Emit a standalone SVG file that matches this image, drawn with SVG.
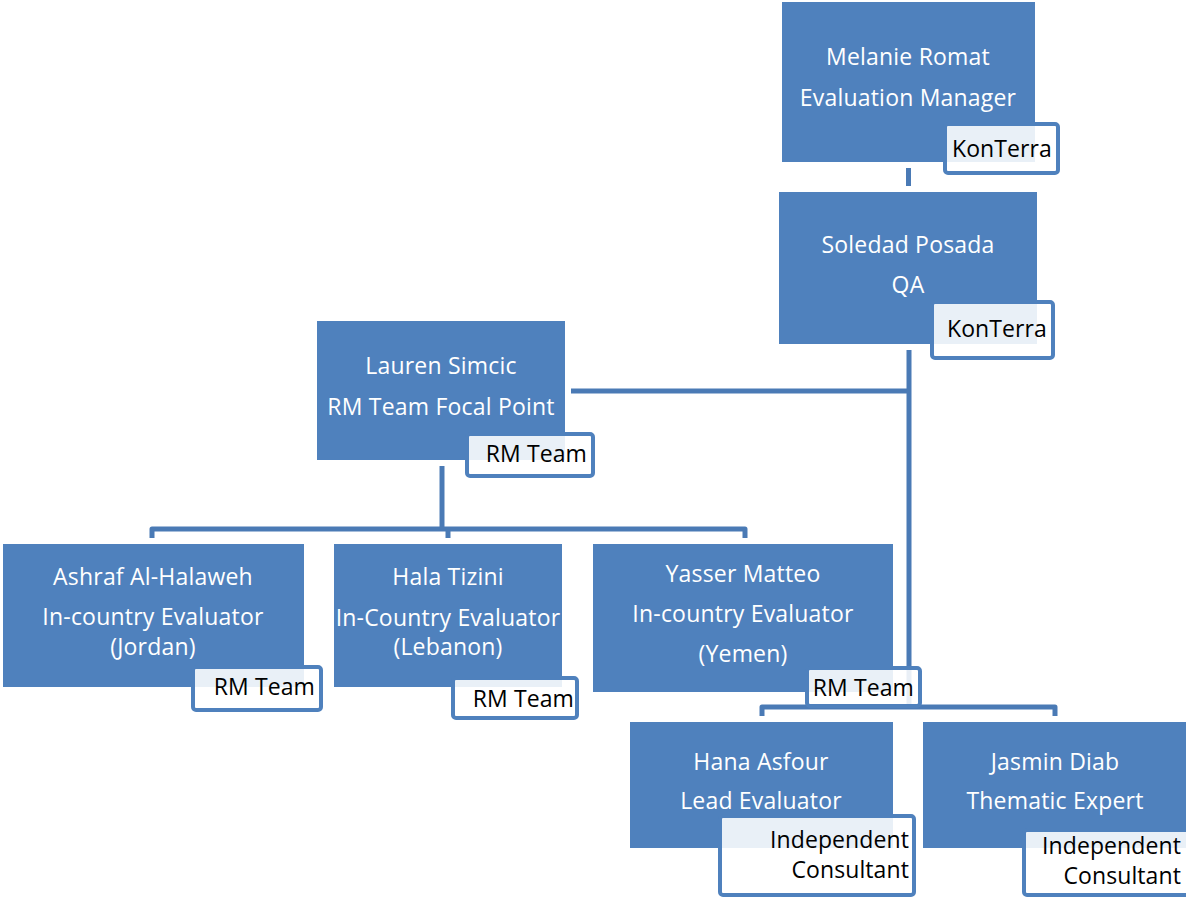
<svg xmlns="http://www.w3.org/2000/svg" width="1186" height="899" viewBox="0 0 1186 899">
<style>
.node{fill:#4F81BD}
.nt{font-family:"Open Sans","Liberation Sans",sans-serif;font-size:23px;fill:#FFFFFF;text-anchor:middle;letter-spacing:0.2px}
.lab{fill:#FFFFFF;fill-opacity:0.88;stroke:#4F81BD;stroke-width:4}
.lt{font-family:"Open Sans","Liberation Sans",sans-serif;font-size:23px;fill:#000000;text-anchor:end;letter-spacing:0.1px}
.conn{fill:none;stroke:#4A7AB5;stroke-width:5;stroke-linejoin:round}
</style>
<rect width="1186" height="899" fill="#FFFFFF"/>
<g id="connectors">
<path class="conn" d="M908.5,168 V186"/>
<path class="conn" d="M909,350 V707"/>
<path class="conn" d="M571,391 H909"/>
<path class="conn" d="M442,466 V529"/>
<path class="conn" d="M152,538 V529 H745 V538"/>
<path class="conn" d="M448,529 V538"/>
<path class="conn" d="M762,716 V707 H1055 V716"/>
</g>
<g id="melanie">
<rect class="node" x="782" y="2" width="253" height="160"/>
<text class="nt" x="908" y="65">Melanie Romat</text>
<text class="nt" x="908" y="106">Evaluation Manager</text>
<rect class="lab" x="945" y="124" width="113" height="49" rx="3"/>
<text class="lt" x="1052" y="157">KonTerra</text>
</g>
<g id="soledad">
<rect class="node" x="779" y="192" width="258" height="152"/>
<text class="nt" x="908" y="253">Soledad Posada</text>
<text class="nt" x="908" y="293">QA</text>
<rect class="lab" x="932" y="302" width="121" height="56" rx="3"/>
<text class="lt" x="1047" y="337">KonTerra</text>
</g>
<g id="lauren">
<rect class="node" x="317" y="321" width="248" height="139"/>
<text class="nt" x="441" y="374">Lauren Simcic</text>
<text class="nt" x="441" y="415">RM Team Focal Point</text>
<rect class="lab" x="467" y="434" width="126" height="42" rx="3"/>
<text class="lt" x="587" y="462">RM Team</text>
</g>
<g id="ashraf">
<rect class="node" x="3" y="544" width="301" height="143"/>
<text class="nt" x="153" y="585">Ashraf Al-Halaweh</text>
<text class="nt" x="153" y="625">In-country Evaluator</text>
<text class="nt" x="153" y="655">(Jordan)</text>
<rect class="lab" x="193" y="667" width="128" height="43" rx="3"/>
<text class="lt" x="315" y="695">RM Team</text>
</g>
<g id="hala">
<rect class="node" x="334" y="544" width="228" height="143"/>
<text class="nt" x="448" y="585">Hala Tizini</text>
<text class="nt" x="448" y="626">In-Country Evaluator</text>
<text class="nt" x="448" y="655">(Lebanon)</text>
<rect class="lab" x="453" y="678" width="124" height="40" rx="3"/>
<text class="lt" x="574" y="707">RM Team</text>
</g>
<g id="yasser">
<rect class="node" x="593" y="544" width="300" height="148"/>
<text class="nt" x="743" y="582">Yasser Matteo</text>
<text class="nt" x="743" y="622">In-country Evaluator</text>
<text class="nt" x="743" y="662">(Yemen)</text>
<rect class="lab" x="807" y="668" width="113" height="38" rx="3"/>
<text class="lt" x="914" y="696">RM Team</text>
</g>
<g id="hana">
<rect class="node" x="630" y="722" width="263" height="126"/>
<text class="nt" x="761" y="770">Hana Asfour</text>
<text class="nt" x="761" y="809">Lead Evaluator</text>
<rect class="lab" x="720" y="816" width="194" height="79" rx="3"/>
<text class="lt" x="909" y="848">Independent</text>
<text class="lt" x="909" y="878">Consultant</text>
</g>
<g id="jasmin">
<rect class="node" x="923" y="722" width="263" height="126"/>
<text class="nt" x="1055" y="770">Jasmin Diab</text>
<text class="nt" x="1055" y="809">Thematic Expert</text>
<rect class="lab" x="1024" y="830" width="170" height="65" rx="3"/>
<text class="lt" x="1181" y="854">Independent</text>
<text class="lt" x="1181" y="884">Consultant</text>
</g>
</svg>
